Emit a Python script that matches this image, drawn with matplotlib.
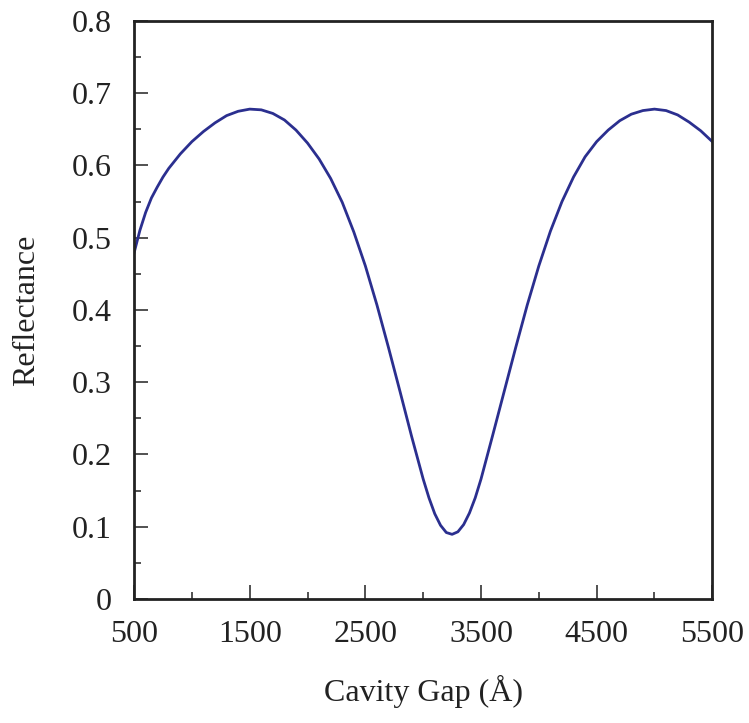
import numpy as np
import matplotlib
matplotlib.use('Agg')
from matplotlib import pyplot as plt
from matplotlib.ticker import FixedLocator, FuncFormatter, MultipleLocator

# values
gap = [500, 550, 600, 650, 700, 750, 800, 900, 1000, 1100, 1200, 1300, 1400, 1500,
       1600, 1700, 1800, 1900, 2000, 2100, 2200, 2300, 2400, 2500, 2600, 2700,
       2800, 2900, 3000, 3050, 3100, 3150, 3200, 3250, 3300, 3350, 3400, 3450,
       3500, 3600, 3700, 3800, 3900, 4000, 4100, 4200, 4300, 4400, 4500, 4600,
       4700, 4800, 4900, 5000, 5100, 5200, 5300, 5400, 5500]
refl = [0.479, 0.510, 0.535, 0.555, 0.570, 0.584, 0.596, 0.616, 0.633, 0.647, 0.659,
        0.669, 0.675, 0.678, 0.677, 0.672, 0.663, 0.649, 0.631, 0.609, 0.582,
        0.549, 0.508, 0.461, 0.407, 0.348, 0.287, 0.225, 0.166, 0.140, 0.118,
        0.102, 0.092, 0.0895, 0.093, 0.103, 0.119, 0.140, 0.166, 0.226, 0.287,
        0.348, 0.407, 0.461, 0.509, 0.550, 0.584, 0.612, 0.633, 0.649, 0.662,
        0.671, 0.676, 0.678, 0.676, 0.670, 0.660, 0.648, 0.633]

xticks = [500, 1500, 2500, 3500, 4500, 5500]
xminor = [1000, 2000, 3000, 4000, 5000]

plt.rcParams['font.family'] = ['Liberation Serif', 'DejaVu Serif']

fig = plt.figure(figsize=(7.49, 7.23), dpi=100)
ax = fig.add_axes([0.179, 0.1715, 0.772, 0.7995])
ax.plot(gap, refl, color='#2b2f8f', lw=2.0, solid_joinstyle='round')

ax.set_xlim(500, 5500)
ax.set_ylim(0, 0.8)
ax.xaxis.set_major_locator(FixedLocator(xticks))
ax.xaxis.set_minor_locator(FixedLocator(xminor))
ax.yaxis.set_major_locator(MultipleLocator(0.1))
ax.yaxis.set_minor_locator(MultipleLocator(0.05))
ax.yaxis.set_major_formatter(FuncFormatter(lambda v, p: '0' if abs(v) < 1e-9 else '%.1f' % v))
ax.tick_params(which='both', direction='in', top=False, right=False,
               labelsize=23, width=1.2, color='#333333', labelcolor='#222222')
ax.tick_params(which='major', length=10)
ax.tick_params(axis='x', which='major', pad=15)
ax.tick_params(axis='y', which='major', pad=16)
ax.tick_params(which='minor', length=5)
for s in ax.spines.values():
    s.set_linewidth(2.0)
    s.set_color('#222222')

ax.set_xlabel('Cavity Gap (Å)', fontsize=23, labelpad=19, color='#222222')
ax.set_ylabel('Reflectance', fontsize=23, labelpad=22, color='#222222')

fig.savefig('out.png', dpi=100)
